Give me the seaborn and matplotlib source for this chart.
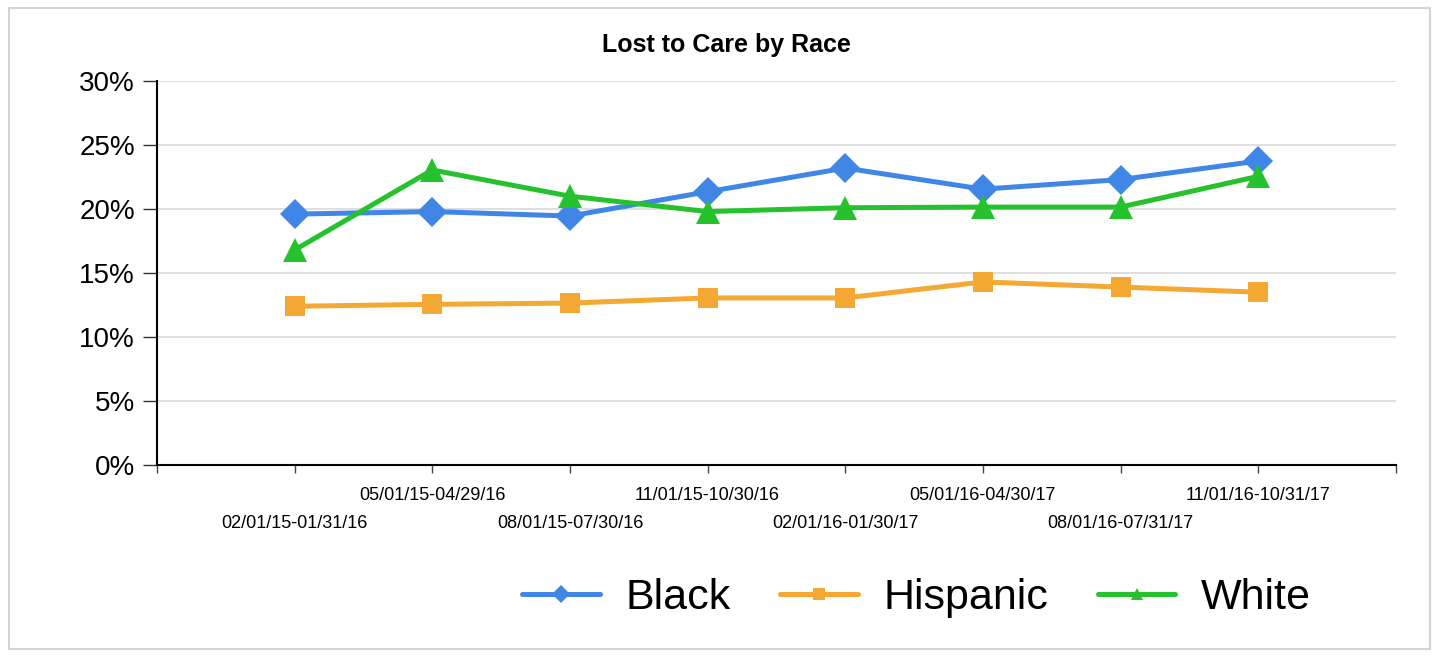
import matplotlib
matplotlib.use("Agg")
import matplotlib.pyplot as plt
from matplotlib.patches import Rectangle
from matplotlib.lines import Line2D
from matplotlib import font_manager
import seaborn as sns
import pandas as pd

periods = [
    "02/01/15-01/31/16", "05/01/15-04/29/16", "08/01/15-07/30/16", "11/01/15-10/30/16",
    "02/01/16-01/30/17", "05/01/16-04/30/17", "08/01/16-07/31/17", "11/01/16-10/31/17",
]
black = [19.6, 19.8, 19.45, 21.35, 23.2, 21.55, 22.3, 23.75]
hispanic = [12.4, 12.55, 12.65, 13.05, 13.05, 14.3, 13.9, 13.5]
white = [16.8, 23.05, 21.0, 19.8, 20.1, 20.15, 20.15, 22.55]
races = ["Black", "Hispanic", "White"]
y_ticks = [0, 5, 10, 15, 20, 25, 30]

colors = {"Black": "#3f86e6", "Hispanic": "#f5a833", "White": "#26c22d"}
markers = {"Black": "D", "Hispanic": "s", "White": "^"}
msizes = {"Black": 15, "Hispanic": 14, "White": 17}

rows = []
for race, vals in zip(races, [black, hispanic, white]):
    for i, v in enumerate(vals):
        rows.append({"pos": i + 1, "pct": v, "race": race})
df = pd.DataFrame(rows)

sns.set_theme(style="white")
plt.rcParams["font.family"] = ["Liberation Sans", "DejaVu Sans"]
plt.rcParams["text.color"] = "black"
plt.rcParams["xtick.color"] = "black"
plt.rcParams["ytick.color"] = "black"

installed = {f.name for f in font_manager.fontManager.ttflist}
narrow = "Liberation Sans Narrow" if "Liberation Sans Narrow" in installed else "Liberation Sans"
period_size = 14.5 if narrow == "Liberation Sans Narrow" else 13

fig = plt.figure(figsize=(14.39, 6.56), dpi=100)
fig.patches.append(Rectangle((0.006, 0.01), 0.988, 0.978, transform=fig.transFigure,
                             fill=False, edgecolor="#d4d4d4", linewidth=1.5))
ax = fig.add_axes([0.1091, 0.2912, 0.8609, 0.5853])

for race in races:
    sub = df[df["race"] == race]
    sns.lineplot(data=sub, x="pos", y="pct", ax=ax, color=colors[race],
                 marker=markers[race], markersize=msizes[race], markeredgewidth=0,
                 linewidth=3.6, legend=False, zorder=3)

ax.set_xlim(0, 9)
ax.set_ylim(0, 30)
ax.set_yticks(y_ticks)
ax.set_yticklabels([f"{t}%" for t in y_ticks], fontsize=20)
ax.set_xticks(range(0, 10))
ax.set_xticklabels([""] + periods + [""], fontsize=period_size, family=narrow)
for i, lab in enumerate(ax.get_xticklabels()):
    if 1 <= i <= 8 and i % 2 == 1:
        lab.set_y(-0.095)
    elif 1 <= i <= 8:
        lab.set_y(-0.022)

ax.grid(axis="y", color="#d9d9d9", linewidth=1.2)
ax.set_axisbelow(True)
for s in ["top", "right"]:
    ax.spines[s].set_visible(False)
for s in ["left", "bottom"]:
    ax.spines[s].set_color("black")
    ax.spines[s].set_linewidth(1.5)
ax.tick_params(axis="y", length=10, width=1, color="#333333", left=True, pad=6)
ax.tick_params(axis="x", length=6, width=1, color="#444444", bottom=True, pad=4)
ax.set_xlabel("")
ax.set_ylabel("")
fig.text(0.505, 0.931, "Lost to Care by Race", fontsize=18, fontweight="bold",
         ha="center", va="center")

handles = [Line2D([0], [0], color=colors[r], marker=markers[r], markersize=9,
                  markeredgewidth=0, linewidth=3.6) for r in races]
fig.legend(handles, races, loc="center", bbox_to_anchor=(0.637, 0.088), ncol=3,
           frameon=False, fontsize=31, handlelength=1.8, columnspacing=1.15,
           handletextpad=0.6)

fig.savefig("out.png", dpi=100)
